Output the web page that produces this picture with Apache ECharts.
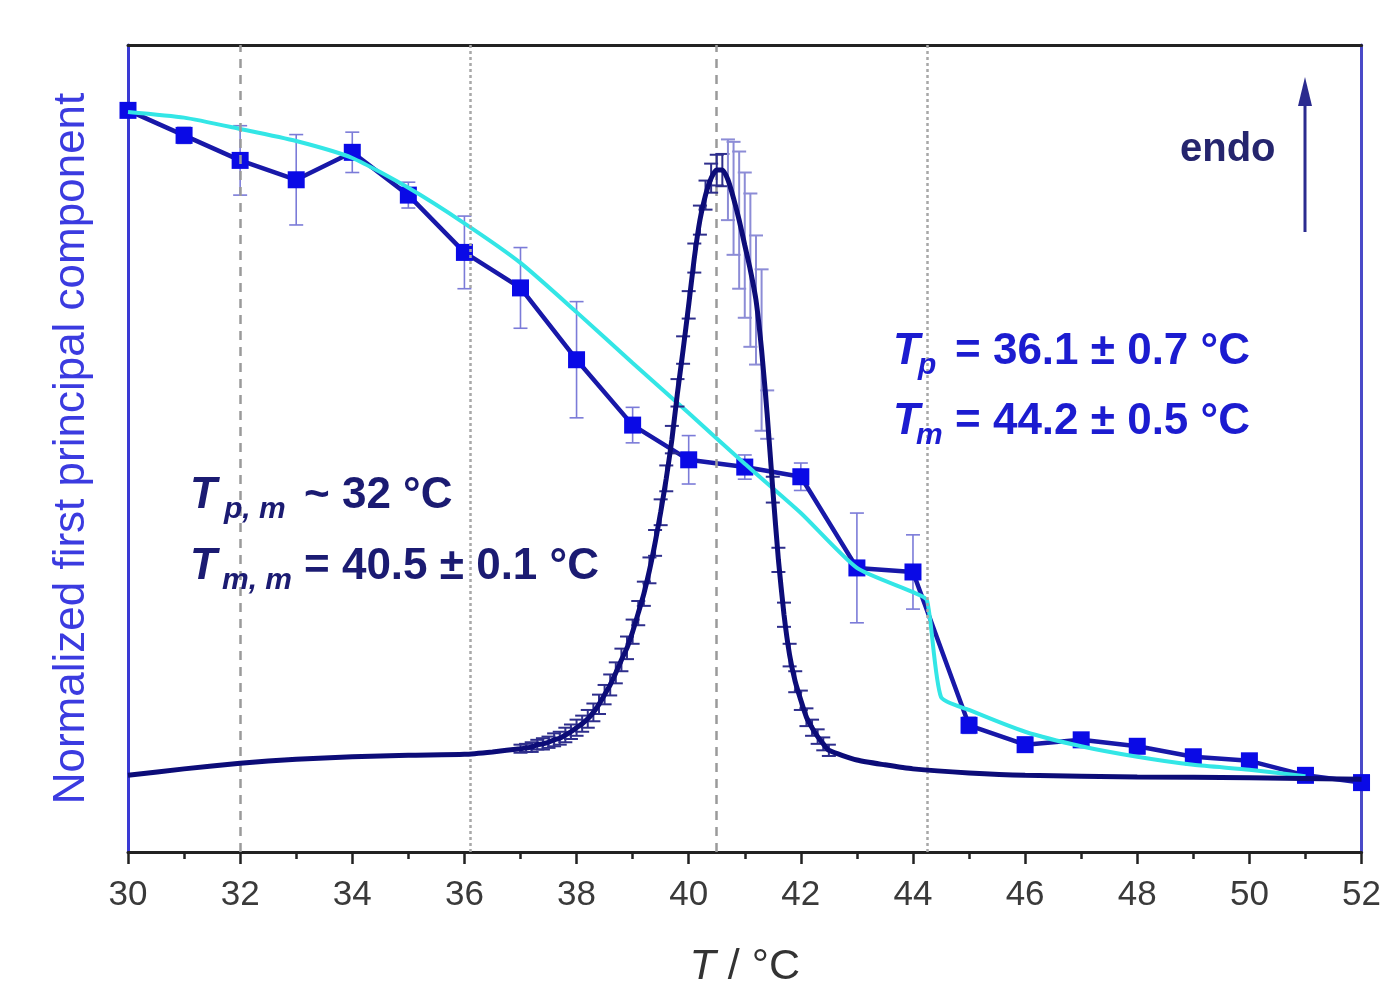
<!DOCTYPE html>
<html>
<head>
<meta charset="utf-8">
<script src="https://cdn.jsdelivr.net/npm/echarts@6.0.0/dist/echarts.min.js"></script>
<style>
html,body{margin:0;padding:0;background:#fff;}
#chart{width:1384px;height:999px;}
</style>
</head>
<body>
<div id="chart"></div>
<script>
// ---- data ----
const xMin = 30, xMax = 52, xStep = 2;

// PCA first principal component (squares) with error bars
const pcT   = [30,31,32,33,34,35,36,37,38,39,40,41,42,43,44,45,46,47,48,49,50,51,52];
const pcV   = [91.9,88.8,85.7,83.3,86.7,81.4,74.3,69.9,61.0,52.9,48.6,47.7,46.5,35.2,34.7,15.7,13.3,13.9,13.1,11.8,11.3,9.5,8.6];
const pcErr = [0.5,1.0,4.3,5.6,2.5,1.6,4.5,5.0,7.2,2.2,3.0,1.5,1.7,6.8,4.6,1.0,0.5,0.5,0.5,0.5,0.5,0.5,0.5];

// fitted (cyan) curve
const fitT = [30,31,32,33,34,35,36,37,38,39,40,41,42,43,44,44.25,44.5,45,46,47,48,49,50,51];
const fitV = [91.7,91.0,89.6,88.1,86.0,82.3,77.9,73.0,66.9,60.6,54.4,48.1,42.0,35.2,32.2,31.2,19.2,17.6,14.9,13.1,11.8,10.8,10.2,9.4];

// DSC thermogram (navy) with error bars
const dscT = [30,31,32,33,34,35,36,36.5,
  37.0,37.1,37.2,37.3,37.4,37.5,37.6,37.7,37.8,37.9,
  38.0,38.1,38.2,38.3,38.4,38.5,38.6,38.7,38.8,38.9,
  39.0,39.1,39.2,39.3,39.4,39.5,39.6,39.7,39.8,39.9,
  40.0,40.1,40.2,40.3,40.4,40.5,40.6,40.7,40.8,40.9,
  41.0,41.1,41.2,41.3,41.4,41.5,41.6,41.7,41.8,41.9,
  42.0,42.1,42.2,42.3,42.4,42.5,43,43.5,44,45,46,48,50,52];
const dscV = [9.5,10.3,11.0,11.5,11.8,12.0,12.1,12.4,
  12.8,12.9,13.0,13.3,13.4,13.6,13.9,14.1,14.5,14.9,
  15.4,15.9,16.5,17.3,18.3,19.5,20.7,22.2,23.8,25.3,
  27.3,29.6,32.0,34.9,38.3,42.1,46.3,51.1,56.9,62.2,
  67.8,73.6,78.3,81.4,83.5,84.5,84.5,83.3,81.0,78.3,
  75.2,72.1,68.4,62.2,54.2,44.9,36.2,29.4,24.4,21.1,
  18.8,16.7,15.4,14.3,13.4,12.6,11.4,10.8,10.3,9.8,9.5,9.3,9.2,9.0];
const dscErr = [0,0,0,0,0,0,0,0,
  0.5,0.5,0.6,0.6,0.7,0.7,0.8,0.8,0.9,0.9,
  1.0,1.0,1.1,1.1,1.2,1.2,1.3,1.3,1.4,1.4,
  1.5,1.5,1.5,1.6,1.6,1.6,1.6,1.7,1.7,1.7,
  1.7,1.8,1.8,1.8,1.8,1.9,2.0,5.0,7.0,8.5,
  9.0,9.5,8.0,10.0,3.0,1.6,1.5,1.5,1.4,1.3,
  1.2,1.1,1.0,0.9,0.8,0.7,0,0,0,0,0,0,0,0];

// reference temperatures (vertical lines)
const dashedRefs = [32, 40.5];
const dottedRefs = [36.1, 44.25];

// ---- build ----
const zip2 = (a, b) => a.map((v, i) => [v, b[i]]);
const zip3 = (a, b, c) => a.map((v, i) => [v, b[i], c[i]]);

function errRender(capHalf, color, lw, bigColor) {
  return function (params, api) {
    const x = api.value(0), y = api.value(1), e = api.value(2);
    if (!e) return null;
    const t = api.coord([x, y + e]);
    const b = api.coord([x, y - e]);
    const c = (bigColor && e > 2.5) ? bigColor : color;
    const st = { stroke: c, lineWidth: lw };
    return {
      type: 'group',
      children: [
        { type: 'line', shape: { x1: t[0], y1: t[1], x2: b[0], y2: b[1] }, style: st },
        { type: 'line', shape: { x1: t[0] - capHalf, y1: t[1], x2: t[0] + capHalf, y2: t[1] }, style: st },
        { type: 'line', shape: { x1: b[0] - capHalf, y1: b[1], x2: b[0] + capHalf, y2: b[1] }, style: st }
      ]
    };
  };
}

const FONT = '"Liberation Sans", Arial, Helvetica, sans-serif';
const chart = echarts.init(document.getElementById('chart'), null, { renderer: 'canvas' });

const markLineData = []
  .concat(dashedRefs.map(v => ({ xAxis: v, lineStyle: { type: [9, 7], color: '#9a9a9a', width: 2.5 } })))
  .concat(dottedRefs.map(v => ({ xAxis: v, lineStyle: { type: [3, 3], color: '#a8a8a8', width: 2.5 } })));

const option = {
  animation: false,
  backgroundColor: '#ffffff',
  grid: { left: 128, right: 22, top: 45, bottom: 147, containLabel: false },
  xAxis: [
    {
      type: 'value', min: xMin, max: xMax, interval: xStep, position: 'bottom',
      name: '{i|T} / °C', nameLocation: 'middle', nameGap: 94,
      nameTextStyle: {
        fontFamily: FONT, fontSize: 43, color: '#333',
        rich: { i: { fontFamily: FONT, fontSize: 43, fontStyle: 'italic', color: '#333' } }
      },
      axisLine: { show: true, onZero: false, lineStyle: { color: '#222', width: 3 } },
      axisTick: { show: true, inside: false, length: 12, lineStyle: { color: '#222', width: 2.5 } },
      minorTick: { show: true, splitNumber: 2, length: 7, lineStyle: { color: '#222', width: 2.5 } },
      axisLabel: { fontFamily: FONT, fontSize: 35, color: '#3a3a3a', margin: 26 },
      splitLine: { show: false }
    },
    {
      type: 'value', min: xMin, max: xMax, interval: xStep, position: 'top',
      axisLine: { show: true, onZero: false, lineStyle: { color: '#222', width: 3 } },
      axisTick: { show: false }, axisLabel: { show: false }, splitLine: { show: false }
    }
  ],
  yAxis: [
    {
      type: 'value', min: 0, max: 100, position: 'left',
      name: 'Normalized first principal component', nameLocation: 'middle', nameGap: 34,
      nameTextStyle: { fontFamily: FONT, fontSize: 44, color: '#3b3be0' },
      axisLine: { show: true, onZero: false, lineStyle: { color: '#3a3ad4', width: 3 } },
      axisTick: { show: false }, axisLabel: { show: false }, splitLine: { show: false }
    },
    {
      type: 'value', min: 0, max: 100, position: 'right',
      axisLine: { show: true, onZero: false, lineStyle: { color: '#4a4ac8', width: 3 } },
      axisTick: { show: false }, axisLabel: { show: false }, splitLine: { show: false }
    }
  ],
  series: [
    {
      name: 'refs', type: 'line', data: [], silent: true, z: 1,
      markLine: { symbol: 'none', silent: true, label: { show: false }, data: markLineData, animation: false }
    },
    {
      name: 'pcErr', type: 'custom', z: 2, silent: true,
      renderItem: errRender(7, '#7b7bd8', 1.6),
      encode: { x: 0, y: 1 },
      data: zip3(pcT, pcV, pcErr)
    },
    {
      name: 'pc', type: 'line', z: 3, data: zip2(pcT, pcV),
      symbol: 'rect', symbolSize: 17, showAllSymbol: true,
      lineStyle: { color: '#1818a8', width: 4.5 },
      itemStyle: { color: '#0a0ae6' }
    },
    {
      name: 'fit', type: 'line', z: 4, data: zip2(fitT, fitV),
      symbol: 'none', smooth: 0.2,
      lineStyle: { color: '#33e6e6', width: 4 }
    },
    {
      name: 'dscErr', type: 'custom', z: 5, silent: true,
      renderItem: errRender(7, '#2e2e8c', 2, '#8c8cd6'),
      encode: { x: 0, y: 1 },
      data: zip3(dscT, dscV, dscErr)
    },
    {
      name: 'dsc', type: 'line', z: 6, data: zip2(dscT, dscV),
      symbol: 'none', smooth: 0.2,
      lineStyle: { color: '#0c0c78', width: 5 }
    }
  ],
  graphic: [
    // right annotation
    { type: 'text', z: 100, style: { x: 893, y: 352, text: 'T', font: 'italic bold 44px ' + FONT, fill: '#1c1cd0', textVerticalAlign: 'middle' } },
    { type: 'text', z: 100, style: { x: 918, y: 366, text: 'p', font: 'italic bold 30px ' + FONT, fill: '#1c1cd0', textVerticalAlign: 'middle' } },
    { type: 'text', z: 100, style: { x: 955, y: 352, text: '= 36.1 ± 0.7 °C', font: 'bold 44px ' + FONT, fill: '#1c1cd0', textVerticalAlign: 'middle' } },
    { type: 'text', z: 100, style: { x: 893, y: 422, text: 'T', font: 'italic bold 44px ' + FONT, fill: '#1c1cd0', textVerticalAlign: 'middle' } },
    { type: 'text', z: 100, style: { x: 916, y: 436, text: 'm', font: 'italic bold 30px ' + FONT, fill: '#1c1cd0', textVerticalAlign: 'middle' } },
    { type: 'text', z: 100, style: { x: 955, y: 422, text: '= 44.2 ± 0.5 °C', font: 'bold 44px ' + FONT, fill: '#1c1cd0', textVerticalAlign: 'middle' } },
    // left annotation
    { type: 'text', z: 100, style: { x: 190, y: 496, text: 'T', font: 'italic bold 44px ' + FONT, fill: '#1b1b72', textVerticalAlign: 'middle' } },
    { type: 'text', z: 100, style: { x: 224, y: 510, text: 'p, m', font: 'italic bold 30px ' + FONT, fill: '#1b1b72', textVerticalAlign: 'middle' } },
    { type: 'text', z: 100, style: { x: 304, y: 496, text: '~ 32 °C', font: 'bold 44px ' + FONT, fill: '#1b1b72', textVerticalAlign: 'middle' } },
    { type: 'text', z: 100, style: { x: 190, y: 567, text: 'T', font: 'italic bold 44px ' + FONT, fill: '#1b1b72', textVerticalAlign: 'middle' } },
    { type: 'text', z: 100, style: { x: 222, y: 581, text: 'm, m', font: 'italic bold 30px ' + FONT, fill: '#1b1b72', textVerticalAlign: 'middle' } },
    { type: 'text', z: 100, style: { x: 304, y: 567, text: '= 40.5 ± 0.1 °C', font: 'bold 44px ' + FONT, fill: '#1b1b72', textVerticalAlign: 'middle' } },
    // endo arrow
    { type: 'text', z: 100, style: { x: 1180, y: 150, text: 'endo', font: 'bold 40px ' + FONT, fill: '#25256e', textVerticalAlign: 'middle' } },
    { type: 'line', z: 100, shape: { x1: 1305, y1: 232, x2: 1305, y2: 100 }, style: { stroke: '#2b2b8f', lineWidth: 3 } },
    { type: 'polygon', z: 100, shape: { points: [[1305, 77], [1298, 106], [1312, 106]] }, style: { fill: '#2b2b8f' } }
  ]
};

chart.setOption(option);
</script>
</body>
</html>
